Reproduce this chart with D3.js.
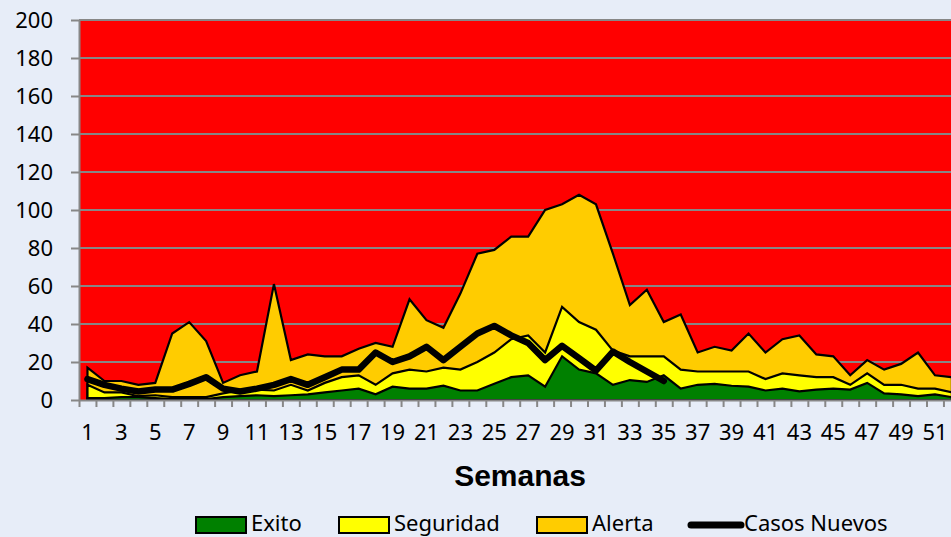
<!DOCTYPE html>
<html>
<head>
<meta charset="utf-8">
<script src="https://cdn.jsdelivr.net/npm/d3@7"></script>
<style>
  body { margin: 0; background: #e7edf8; overflow: hidden; }
  svg { display: block; }
</style>
</head>
<body>
<div id="chart"></div>
<script>

// semanas epidemiologicas
var semanas = d3.range(1, 53);

// limites del canal endemico (acumulados)
var exito = [1,1,1.5,1.5,1,0.5,0.5,0.5,1.5,2,2.5,2,2.5,
  3,4,5,6,3,7,6,6,7.5,5,5,8.5,
  12,13,7,23,16,14,8,10.5,9.5,13,6,8,8.5,7.5,
  7,5,6,4.5,5.5,6,5.5,9,3.5,3,2,3,1.5];

var seguridad = [8,4,4,2,2.5,1.5,1.5,1.5,3.5,5,5.5,5,8,
  5,9,12,13,8,14,16,15,17,16,20,25,
  32,34,25,49,41,37,26,23,23,23,16,15,15,15,
  15,11,14,13,12,12,8,14,8,8,6,6,4];

var alerta = [17,10,10,8,9,35,41,31,9,13,15,61,21,24,23,23,27,30,28,53,
  42,38,56,77,79,86,86,100,103,108,103,77,50,58,41,45,25,28,26,35,
  25,32,34,24,23,13,21,16,19,25,13,12];

// casos nuevos hasta la semana 35
var casos = [11,8,6,4.5,5.5,5.5,8.5,12,6,4.5,6,8,11,8,12,16,16,25,20,23,
  28,21,28,35,39,34,30,21,28.5,22,15.5,25.5,20,15,10];

var yTicks = d3.range(0, 201, 20);
var xLabels = semanas.filter(function (d) { return d % 2; });

var width = 951,
  height = 537,
  margin = {top: 20, left: 79, bottom: 137},
  step = 16.95,
  innerHeight = height - margin.top - margin.bottom;

var svg = d3.select("#chart").append("svg")
  .attr("width", width)
  .attr("height", height);

var x = d3.scaleBand()
  .domain(semanas)
  .range([margin.left, margin.left + step * semanas.length]);

var xEdge = d3.scaleLinear()
  .domain([0, semanas.length])
  .range(x.range());

var y = d3.scaleLinear()
  .domain([0, 200])
  .range([margin.top + innerHeight, margin.top]);

function cx(d, i) { return x(semanas[i]) + x.bandwidth() / 2; }

// fondo rojo (epidemia)
svg.append("rect")
  .attr("x", margin.left)
  .attr("y", y(200))
  .attr("width", x.range()[1] - margin.left)
  .attr("height", y(0) - y(200))
  .attr("fill", "#ff0000");

// lineas de cuadricula
svg.append("g")
  .selectAll("line")
  .data(yTicks.slice(1))
  .enter().append("line")
  .attr("x1", margin.left)
  .attr("x2", width)
  .attr("y1", function (d) { return y(d); })
  .attr("y2", function (d) { return y(d); })
  .attr("stroke", "#878787")
  .attr("stroke-width", 2);

var area = d3.area()
  .x(cx)
  .y0(y(0))
  .y1(function (d) { return y(d); });

var zonas = [
  {data: alerta, color: "#ffcc00"},
  {data: seguridad, color: "#ffff00"},
  {data: exito, color: "#008000"}
];

svg.append("g")
  .selectAll("path")
  .data(zonas)
  .enter().append("path")
  .attr("d", function (d) { return area(d.data) + "Z"; })
  .attr("fill", function (d) { return d.color; })
  .attr("stroke", "#000")
  .attr("stroke-width", 2.2);

// casos nuevos
var line = d3.line()
  .x(cx)
  .y(function (d) { return y(d); });

svg.append("path")
  .attr("d", line(casos))
  .attr("fill", "none")
  .attr("stroke", "#000")
  .attr("stroke-width", 6.5)
  .attr("stroke-linecap", "round")
  .attr("stroke-linejoin", "round");

// eje y
var yAxis = svg.append("g")
  .attr("transform", "translate(" + margin.left + ",0)")
  .call(d3.axisLeft(y).tickValues(yTicks).tickSize(8).tickPadding(18).tickSizeOuter(0));

yAxis.select(".domain").attr("stroke", "#878787").attr("stroke-width", 2);
yAxis.selectAll(".tick line").attr("stroke", "#878787").attr("stroke-width", 2);
yAxis.selectAll("text")
  .attr("font-family", "Noto Sans, Open Sans, sans-serif")
  .attr("font-size", "22px")
  .attr("fill", "#000");

// eje x: marcas entre categorias
var xTickAxis = svg.append("g")
  .attr("transform", "translate(0," + y(0) + ")")
  .call(d3.axisBottom(xEdge).tickValues(d3.range(0, semanas.length + 1))
    .tickFormat("").tickSize(7).tickSizeOuter(0));

xTickAxis.select(".domain").attr("stroke", "#878787").attr("stroke-width", 2);
xTickAxis.selectAll(".tick line").attr("stroke", "#878787").attr("stroke-width", 2);
xTickAxis.selectAll(".tick text").remove();

// eje x: etiquetas (semanas impares)
var xLabelAxis = svg.append("g")
  .attr("transform", "translate(0," + y(0) + ")")
  .call(d3.axisBottom(x).tickValues(xLabels).tickSize(0).tickPadding(24));

xLabelAxis.select(".domain").remove();
xLabelAxis.selectAll("text")
  .attr("font-family", "Noto Sans, Open Sans, sans-serif")
  .attr("font-size", "22px")
  .attr("fill", "#000");

svg.append("text")
  .attr("x", 520)
  .attr("y", 486)
  .attr("text-anchor", "middle")
  .attr("font-family", "Liberation Sans, Arial, sans-serif")
  .attr("font-weight", "bold")
  .attr("font-size", "30px")
  .attr("fill", "#000")
  .text("Semanas");

// leyenda
var leyenda = [
  {name: "Exito", color: "#008000", x: 196, tipo: "rect"},
  {name: "Seguridad", color: "#ffff00", x: 339, tipo: "rect"},
  {name: "Alerta", color: "#ffcc00", x: 537, tipo: "rect"},
  {name: "Casos Nuevos", color: "#000", x: 689, tipo: "line"}
];

var item = svg.append("g")
  .selectAll("g")
  .data(leyenda)
  .enter().append("g")
  .attr("transform", function (d) { return "translate(" + d.x + ",0)"; });

item.filter(function (d) { return d.tipo === "rect"; })
  .append("rect")
  .attr("x", 0)
  .attr("y", 517)
  .attr("width", 50)
  .attr("height", 16)
  .attr("fill", function (d) { return d.color; })
  .attr("stroke", "#000")
  .attr("stroke-width", 2);

item.filter(function (d) { return d.tipo === "line"; })
  .append("line")
  .attr("x1", 2)
  .attr("x2", 52)
  .attr("y1", 525)
  .attr("y2", 525)
  .attr("stroke", "#000")
  .attr("stroke-width", 7)
  .attr("stroke-linecap", "round");

item.append("text")
  .attr("x", 55)
  .attr("y", 531)
  .attr("font-family", "Noto Sans, Open Sans, sans-serif")
  .attr("font-size", "22px")
  .attr("fill", "#000")
  .text(function (d) { return d.name; });

</script>
</body>
</html>
